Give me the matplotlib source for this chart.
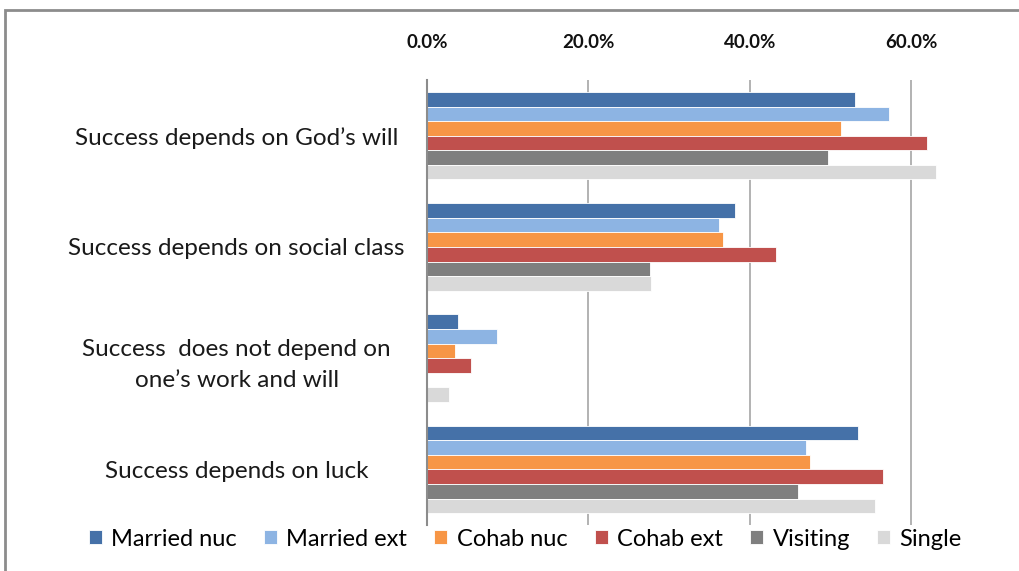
import numpy as np
import matplotlib.pyplot as plt
from matplotlib.patches import Rectangle
from matplotlib.ticker import FuncFormatter

plt.rcParams['font.family'] = ['Lato', 'DejaVu Sans']

categories = ['Success depends on God\u2019s will',
              'Success depends on social class',
              'Success  does not depend on\none\u2019s work and will',
              'Success depends on luck']
series = ['Married nuc', 'Married ext', 'Cohab nuc', 'Cohab ext', 'Visiting', 'Single']
colors = ['#4571A8', '#8DB4E3', '#F79646', '#C0504D', '#7F7F7F', '#D9D9D9']

married_nuc = [53.0, 38.1, 3.8, 53.4]
married_ext = [57.2, 36.2, 8.7, 47.0]
cohab_nuc = [51.3, 36.7, 3.5, 47.4]
cohab_ext = [61.9, 43.2, 5.5, 56.5]
visiting = [49.7, 27.6, 0.0, 46.0]
single = [63.0, 27.8, 2.7, 55.5]
values = [married_nuc, married_ext, cohab_nuc, cohab_ext, visiting, single]

fig = plt.figure(figsize=(10.2, 5.71), dpi=100)
ax = fig.add_axes([0.4186, 0.0806, 0.554, 0.779])

# chart border (only top and left visible in the crop)
fig.patches.append(Rectangle((5 / 1020, -0.1), 1.2, 1.1 - 10 / 571,
                             transform=fig.transFigure, fill=False,
                             edgecolor='#8c8c8c', linewidth=2))

y = np.arange(len(categories))
h = 0.131
for i, (name, vals) in enumerate(zip(series, values)):
    offs = (i - 2.5) * h
    ax.barh(y + offs, vals, height=h, color=colors[i], label=name,
            edgecolor='white', linewidth=0.6)

ax.set_xlim(0, 70)
ax.set_ylim(len(categories) - 0.5, -0.5)
ax.set_xticks([0, 20, 40, 60])
ax.xaxis.set_major_formatter(FuncFormatter(lambda v, p: '%.1f%%' % v))
ax.xaxis.tick_top()
ax.tick_params(axis='x', length=0, pad=21, labelsize=13.5, labelcolor='#111111')
for t in ax.get_xticklabels():
    t.set_fontweight('bold')
ax.set_yticks(y)
ax.set_yticklabels(categories, fontsize=17.5, color='#1a1a1a', ha='center')
ax.tick_params(axis='y', length=0, pad=137)
for t in ax.get_yticklabels():
    t.set_linespacing(1.55)

ax.grid(axis='x', color='#a6a6a6', linewidth=1.2)
ax.set_axisbelow(True)
for s in ['top', 'right', 'bottom']:
    ax.spines[s].set_visible(False)
ax.spines['left'].set_color('#8c8c8c')
ax.spines['left'].set_linewidth(1.5)

fig.legend(loc='center', bbox_to_anchor=(0.515, 0.056), ncol=6, frameon=False,
           fontsize=17, handlelength=0.55, handleheight=0.55, handletextpad=0.4,
           columnspacing=1.15)

fig.savefig('out.png', dpi=100)
